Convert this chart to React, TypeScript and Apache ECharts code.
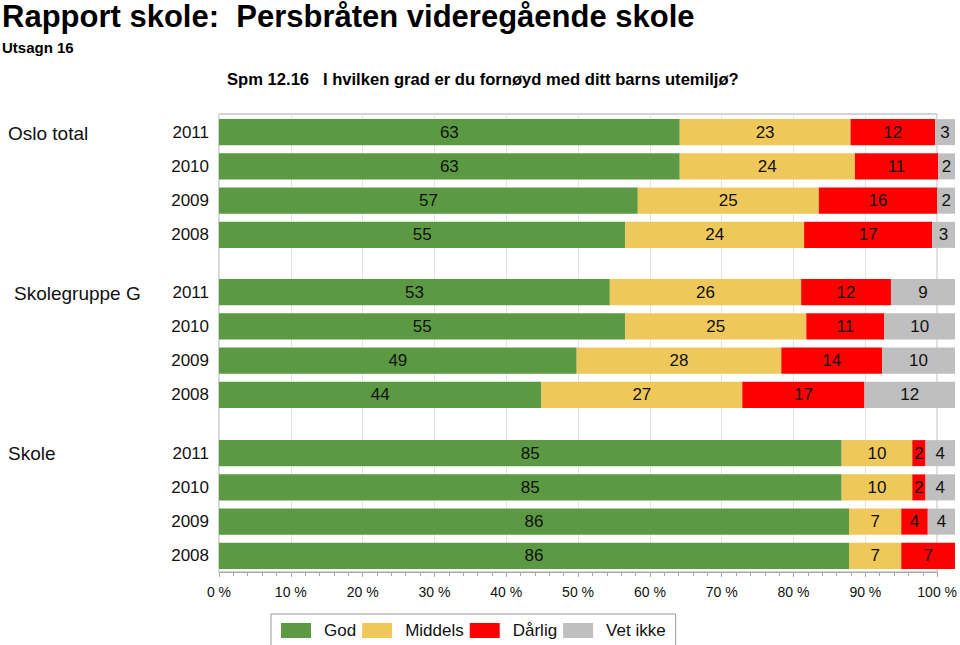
import React, { useEffect, useRef } from "react";
import * as echarts from "echarts";

const years = ["2011", "2010", "2009", "2008"];
const groups = ["Oslo total", "Skolegruppe G", "Skole"];
const seriesNames = ["God", "Middels", "Dårlig", "Vet ikke"];
// values in %, in order: Oslo total 2011..2008, Skolegruppe G 2011..2008, Skole 2011..2008
const god = [62.6, 62.6, 56.9, 55.2, 53.1, 55.2, 48.6, 43.8, 84.6, 84.6, 85.6, 85.6];
const middels = [23.2, 23.8, 24.6, 24.3, 26.0, 24.6, 27.8, 27.3, 9.6, 9.6, 7.1, 7.1];
const darlig = [11.5, 11.3, 16.1, 17.4, 12.2, 10.6, 13.7, 16.6, 1.8, 1.8, 3.6, 7.3];
const vetIkke = [2.7, 2.3, 2.4, 3.1, 8.7, 9.6, 9.9, 12.3, 4.0, 4.0, 3.7, 0];
const xTicks = [0, 10, 20, 30, 40, 50, 60, 70, 80, 90, 100];

const colors = ["#5b9a42", "#efc85c", "#ff0000", "#bfbfbf"];
const FONT = "'Liberation Sans', Arial, Helvetica, sans-serif";

export default function App() {
  const ref = useRef<HTMLDivElement>(null);
  useEffect(() => {
    if (!ref.current) return;
    const chart = echarts.init(ref.current, undefined, { renderer: "svg" });
    const values = [god, middels, darlig, vetIkke];
    const gridTops = [115, 275, 436];
    const gridH = 137;
    const left = 219;
    const width = 736;

    const grids: any[] = [
      {
        left,
        top: 114,
        width,
        height: 458,
        show: true,
        borderColor: "#a8a8a8",
        borderWidth: 1,
        backgroundColor: "transparent",
      },
    ];
    const xAxes: any[] = [
      {
        type: "value",
        gridIndex: 0,
        min: xTicks[0],
        max: xTicks[xTicks.length - 1],
        interval: 10,
        axisLine: { show: true, lineStyle: { color: "#a8a8a8" } },
        axisTick: { show: true, length: 5, lineStyle: { color: "#a8a8a8" } },
        minorTick: { show: true, splitNumber: 5, length: 4, lineStyle: { color: "#a8a8a8" } },
        splitLine: { show: true, lineStyle: { color: "#e2e2e2" } },
        axisLabel: {
          formatter: "{value} %",
          fontSize: 14,
          color: "#111",
          fontFamily: FONT,
          margin: 13,
        },
      },
    ];
    const yAxes: any[] = [{ type: "value", gridIndex: 0, show: false, min: 0, max: 1 }];
    const series: any[] = [];

    groups.forEach((g, gi) => {
      const idx = gi + 1;
      grids.push({ left, top: gridTops[gi], width, height: gridH });
      xAxes.push({ type: "value", gridIndex: idx, min: 0, max: 100, show: false });
      yAxes.push({
        type: "category",
        gridIndex: idx,
        data: years,
        inverse: true,
        axisLine: { show: false },
        axisTick: { show: false },
        splitLine: { show: false },
        axisLabel: { fontSize: 17, color: "#111", fontFamily: FONT, margin: 10 },
      });
      seriesNames.forEach((name, si) => {
        series.push({
          type: "bar",
          name,
          stack: "s" + gi,
          xAxisIndex: idx,
          yAxisIndex: idx,
          barCategoryGap: "24%",
          itemStyle: { color: colors[si] },
          label: {
            show: true,
            position: "inside",
            fontSize: 17,
            color: "#111",
            fontFamily: FONT,
            formatter: (p: any) => (p.value > 0 ? String(Math.round(p.value)) : ""),
          },
          data: values[si].slice(gi * 4, gi * 4 + 4),
        });
      });
    });

    chart.setOption({
      animation: false,
      color: colors,
      textStyle: { fontFamily: FONT },
      grid: grids,
      xAxis: xAxes,
      yAxis: yAxes,
      series,
      legend: {
        data: seriesNames,
        left: 271,
        top: 614,
        orient: "horizontal",
        itemWidth: 30,
        itemHeight: 15,
        itemGap: 6,
        padding: [8, 10, 8, 10],
        borderColor: "#999",
        borderWidth: 1,
        icon: "rect",
        textStyle: {
          fontSize: 17,
          color: "#111",
          fontFamily: FONT,
          padding: [0, 0, 0, 8],
        },
      },
      graphic: [
        {
          type: "text",
          left: 2,
          top: 1,
          style: {
            text: "Rapport skole:  Persbråten videregående skole",
            font: `bold 31px ${FONT}`,
            fill: "#000",
          },
        },
        {
          type: "text",
          left: 2,
          top: 40,
          style: { text: "Utsagn 16", font: `bold 15px ${FONT}`, fill: "#000" },
        },
        {
          type: "text",
          left: 227,
          top: 71,
          style: {
            text: "Spm 12.16   I hvilken grad er du fornøyd med ditt barns utemiljø?",
            font: `bold 16.6px ${FONT}`,
            fill: "#000",
          },
        },
        {
          type: "text",
          left: 8,
          top: 124,
          style: { text: groups[0], font: `19px ${FONT}`, fill: "#111" },
        },
        {
          type: "text",
          left: 14,
          top: 284,
          style: { text: groups[1], font: `19px ${FONT}`, fill: "#111" },
        },
        {
          type: "text",
          left: 8,
          top: 444,
          style: { text: groups[2], font: `19px ${FONT}`, fill: "#111" },
        },
      ],
    });
    return () => chart.dispose();
  }, []);
  return (
    <div
      ref={ref}
      style={{ position: "fixed", left: 0, top: 0, width: 960, height: 645, background: "#fff" }}
    />
  );
}
